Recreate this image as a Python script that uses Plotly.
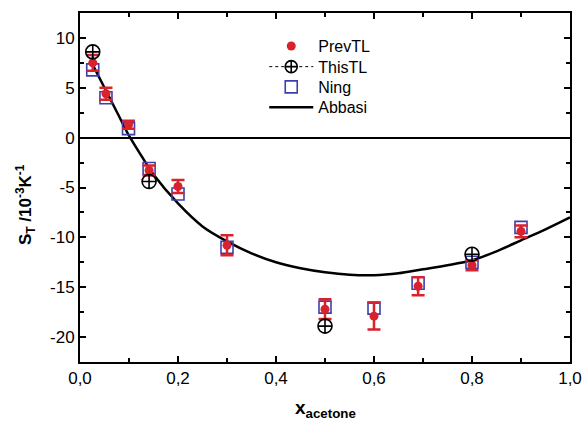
import plotly.graph_objects as go

# --- data -------------------------------------------------------------
x_prev = [0.026, 0.053, 0.099, 0.141, 0.2, 0.3, 0.5, 0.6, 0.69, 0.8, 0.9]
st_prev = [7.5, 4.4, 1.3, -3.3, -4.9, -10.8, -17.2, -17.9, -14.9, -12.8, -9.4]
err_prev = [0.8, 0.6, 0.4, 0.5, 0.65, 1.0, 1.0, 1.35, 0.9, 0.5, 0.6]

x_this = [0.026, 0.141, 0.5, 0.8]
st_this = [8.6, -4.4, -18.9, -11.7]

x_ning = [0.026, 0.053, 0.099, 0.141, 0.2, 0.3, 0.5, 0.6, 0.69, 0.8, 0.9]
st_ning = [6.8, 4.0, 0.9, -3.1, -5.65, -11.0, -17.0, -17.1, -14.6, -12.5, -9.0]

x_abbasi = [0.025, 0.05, 0.075, 0.1, 0.125, 0.15, 0.2, 0.25, 0.3, 0.35, 0.4,
            0.45, 0.5, 0.55, 0.6, 0.65, 0.7, 0.75, 0.8, 0.85, 0.9, 0.95, 1.0]
st_abbasi = [7.4, 5.0, 2.6, 0.2, -1.8, -3.7, -6.6, -8.9, -10.4, -11.6, -12.5,
             -13.1, -13.5, -13.75, -13.8, -13.6, -13.2, -12.8, -12.3, -11.4,
             -10.3, -9.2, -8.0]

x_ticks = [0.0, 0.2, 0.4, 0.6, 0.8, 1.0]
x_ticktext = ["0,0", "0,2", "0,4", "0,6", "0,8", "1,0"]
y_ticks = [-20, -15, -10, -5, 0, 5, 10]
y_ticktext = ["-20", "-15", "-10", "-5", "0", "5", "10"]

RED = "#d8222c"
BLUE = "#3c3fae"
FONT = "Arial, 'Liberation Sans', Helvetica, sans-serif"

fig = go.Figure()

fig.add_trace(go.Scatter(
    x=x_abbasi, y=st_abbasi, mode="lines", name="Abbasi",
    line=dict(color="black", width=2.5, shape="spline", smoothing=0.8),
    legend="legend4",
))

fig.add_trace(go.Scatter(
    x=x_ning, y=st_ning, mode="markers", name="Ning",
    marker=dict(symbol="square-open", size=12, color=BLUE, line=dict(width=1.6, color=BLUE)),
    legend="legend3",
))

fig.add_trace(go.Scatter(
    x=x_prev, y=st_prev, mode="markers", name="PrevTL",
    marker=dict(symbol="circle", size=9, color=RED),
    error_y=dict(type="data", array=err_prev, visible=True, color=RED, thickness=2.5, width=6.5),
    legend="legend",
))

fig.add_trace(go.Scatter(
    x=x_this, y=st_this, mode="markers", name="ThisTL", showlegend=False,
    marker=dict(symbol="circle-cross-open", size=14, color="black", line=dict(width=1.6, color="black")),
))
# legend entry for ThisTL: dotted line with the marker
fig.add_trace(go.Scatter(
    x=[None], y=[None], mode="lines+markers", name="ThisTL",
    line=dict(color="black", width=1, dash="dot"),
    marker=dict(symbol="circle-cross-open", size=12, color="black", line=dict(width=1.6, color="black")),
    legend="legend2",
))

axis_common = dict(
    showline=True, linecolor="black", linewidth=2, mirror="ticks",
    ticks="inside", ticklen=6, tickwidth=1.5, tickcolor="black",
    showgrid=False, automargin=False,
    tickfont=dict(family=FONT, size=17, color="black"),
)

fig.update_xaxes(
    range=[0, 1], tickvals=x_ticks, ticktext=x_ticktext,
    minor=dict(dtick=0.1, ticks="inside", ticklen=4, tickwidth=1.5, tickcolor="black", showgrid=False),
    zeroline=False,
    **axis_common,
)
fig.update_yaxes(
    range=[-22.5, 12.5], tickvals=y_ticks, ticktext=y_ticktext,
    minor=dict(dtick=2.5, ticks="inside", ticklen=4, tickwidth=1.5, tickcolor="black", showgrid=False),
    zeroline=True, zerolinecolor="black", zerolinewidth=1.5,
    **axis_common,
)

fig.add_annotation(
    text="<b>S<sub>T</sub> /10<sup>-3</sup>K<sup>-1</sup></b>",
    xref="paper", yref="paper", x=-0.11, y=0.45, textangle=-90,
    showarrow=False, font=dict(family=FONT, size=17, color="black"),
    xanchor="center", yanchor="middle",
)
fig.add_annotation(
    text="<b>x<sub>acetone</sub></b>",
    xref="paper", yref="paper", x=0.5, y=-0.135,
    showarrow=False, font=dict(family=FONT, size=19, color="black"),
    xanchor="center", yanchor="middle",
)

# one legend box per entry so the rows sit at fixed positions
legend_style = dict(
    x=0.376, xanchor="left", yanchor="middle",
    bgcolor="rgba(0,0,0,0)", borderwidth=0,
    font=dict(family=FONT, size=16, color="black"),
    itemwidth=44,
)
fig.update_layout(
    width=583, height=426,
    margin=dict(l=80, r=13, t=13, b=64, pad=0),
    paper_bgcolor="white", plot_bgcolor="white",
    showlegend=True,
    legend=dict(y=0.905, **legend_style),
    legend2=dict(y=0.846, **legend_style),
    legend3=dict(y=0.788, **legend_style),
    legend4=dict(y=0.730, **legend_style),
)

fig.write_html("out.html")
